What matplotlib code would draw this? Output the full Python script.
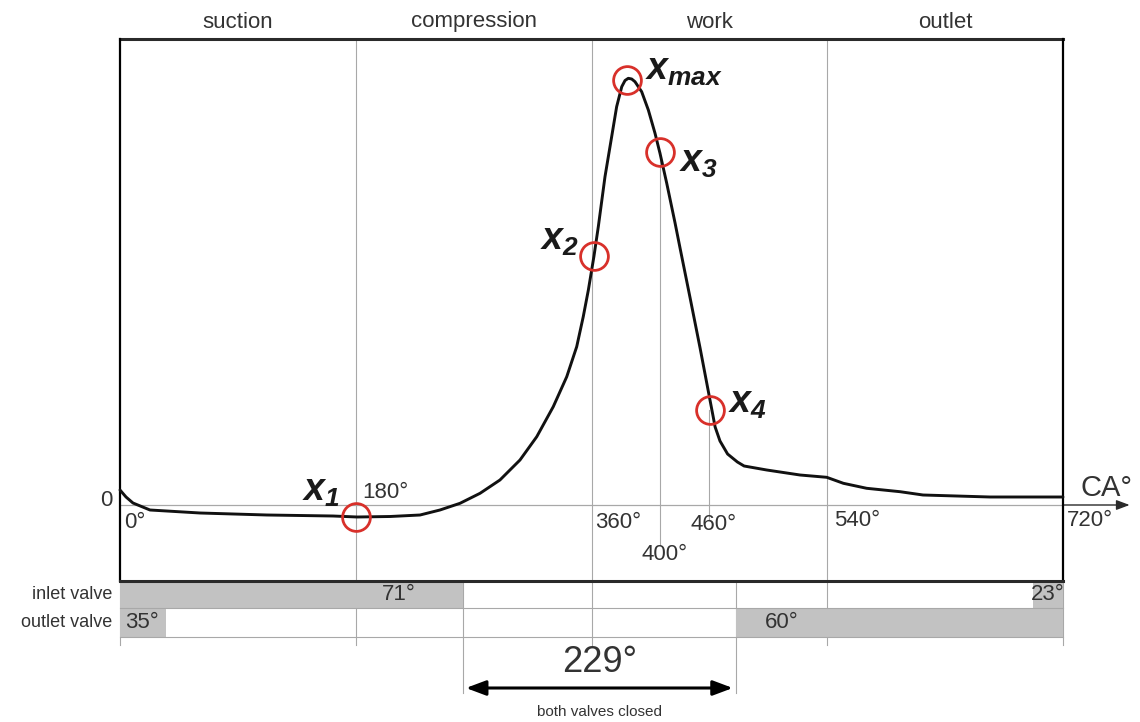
import numpy as np
import matplotlib.pyplot as plt

plt.rcParams['font.family'] = 'Liberation Sans'
plt.rcParams['mathtext.fontset'] = 'custom'
plt.rcParams['mathtext.it'] = 'Liberation Sans:italic:bold'
plt.rcParams['mathtext.rm'] = 'Liberation Sans:italic:bold'

# Curve (crank angle in degrees, signal in arbitrary units)
ca = [0, 4.6, 9.9, 22.9, 61.1, 112.2, 162.6, 181.0, 206.2, 229.1, 244.3,
      259.6, 274.9, 290.1, 305.4, 318.2, 330.8, 341.1, 348.7, 353.7, 357.6,
      361.9, 365.2, 370.3, 375.4, 379.2, 383.1, 385.6, 388.1, 390.7, 393.2,
      398.3, 403.4, 408.5, 412.3, 417.4, 423.8, 427.6, 435.3, 442.9, 449.3,
      454.4, 458.1, 463.9, 471.4, 476.5, 493.8, 519.2, 539.6, 552.3,
      570.1, 595.6, 613.1, 664.3, 720]
sig = [15, 8, 2, -5, -8, -10, -11, -12, -11.5, -10, -5,
       1.7, 11.7, 25, 45, 68.3, 98.3, 128.3, 158.3, 188.3, 215,
       249, 278.3, 328.3, 368.3, 398.3, 418.3, 424.5, 426.7, 426, 423.3,
       413.3, 395, 371.7, 351.7, 322, 282, 257, 207, 157, 113,
       78, 64, 51, 43, 39, 35, 30, 27.7, 21.7,
       16.7, 13.3, 10, 8, 8]

# Marked points
pt_names = ['1', '2', 'max', '3', '4']
pt_ca = [180.5, 361.9, 387.4, 412.3, 450.5]
pt_sig = [-12, 249, 425, 353, 95]

# Strokes
phases = ['suction', 'compression', 'work', 'outlet']
phase_bounds = [0, 180, 360, 540, 720]

# Valve opening (start, length) in degrees
inlet_open = [(0, 262), (697, 23)]
outlet_open = [(0, 35), (470, 250)]
inlet_labels = [(213, '71°'), (708, '23°')]
outlet_labels = [(17, '35°'), (505, '60°')]
closed_from, closed_to = 262, 470

# Angle marks (drawn position, label)
tick_pos = [0, 180, 360, 412, 450, 540, 720]
tick_txt = ['0°', '180°', '360°', '400°', '460°', '540°', '720°']

# figure: 1 unit in y = 1 px, x scaled so 0..720 deg spans px 120..1063
fig = plt.figure(figsize=(11.4, 7.22), dpi=100)
ax = fig.add_axes([0, 0, 1, 1])
ax.axis('off')
k = 943 / 720
ax.set_xlim(-120 / k, (1140 - 120) / k)
ax.set_ylim(-217, 505)

grid = '#a8a8a8'
dark = '#2a2a2a'
txt = '#333333'

top, row0, row1, row2, low = 466, -76, -103, -132, -140

# vertical guide lines
for x in [180, 360, 540]:
    ax.plot([x, x], [top, low], color=grid, lw=0.8, zorder=1)
for x in [0, 720]:
    ax.plot([x, x], [row0, low], color=grid, lw=0.8, zorder=1)
for x in [closed_from, closed_to]:
    ax.plot([x, x], [row0, -188], color=grid, lw=0.8, zorder=1)
ax.plot([tick_pos[3]] * 2, [353, -40], color=grid, lw=0.8, zorder=1)
ax.plot([tick_pos[4]] * 2, [95, -15], color=grid, lw=0.8, zorder=1)

# frame
ax.plot([0, 720], [top, top], color=dark, lw=2.2, zorder=3)
ax.plot([0, 0], [top, row0], color='black', lw=1.6, zorder=3)
ax.plot([720, 720], [top, row0], color='black', lw=1.6, zorder=3)
ax.plot([0, 720], [row0, row0], color=dark, lw=2.2, zorder=3)

# zero line + CA arrow
ax.plot([0, 720], [0, 0], color=grid, lw=0.9, zorder=1)
ax.annotate('', xy=(773, 0), xytext=(718, 0),
            arrowprops=dict(arrowstyle='-|>,head_length=0.8,head_width=0.3',
                            color=dark, lw=1.0), zorder=2)
ax.text(733, 17, 'CA°', fontsize=21, color=txt, ha='left', va='center')
ax.text(-6, 5, '0', fontsize=16, color=txt, ha='right', va='center')

# valve rows
ax.broken_barh(inlet_open, (row1, row0 - row1), facecolor='#c2c2c2', zorder=1)
ax.broken_barh(outlet_open, (row2, row1 - row2), facecolor='#c2c2c2', zorder=1)
for y in [row1, row2]:
    ax.plot([0, 720], [y, y], color=grid, lw=0.8, zorder=2)
ax.text(-6, (row0 + row1) / 2, 'inlet valve', fontsize=13, color=txt,
        ha='right', va='center')
ax.text(-6, (row1 + row2) / 2, 'outlet valve', fontsize=13, color=txt,
        ha='right', va='center')
for x, s in inlet_labels:
    ax.text(x, (row0 + row1) / 2, s, fontsize=16, color=txt, ha='center', va='center')
for x, s in outlet_labels:
    ax.text(x, (row1 + row2) / 2, s, fontsize=16, color=txt, ha='center', va='center')

# both valves closed
ax.annotate('', xy=(closed_to, -183), xytext=(closed_from, -183),
            arrowprops=dict(arrowstyle='<|-|>,head_length=1.2,head_width=0.45',
                            color='black', lw=2.2))
ax.text((closed_from + closed_to) / 2, -158, '229°', fontsize=26, color=txt,
        ha='center', va='center')
ax.text((closed_from + closed_to) / 2, -207, 'both valves closed', fontsize=11,
        color=txt, ha='center', va='center')

# stroke names
for i, name in enumerate(phases):
    ax.text((phase_bounds[i] + phase_bounds[i + 1]) / 2, 483, name,
            fontsize=16, color=txt, ha='center', va='center')

# angle labels
tick_xy = {'0°': (3, -17, 'left'), '180°': (185, 13, 'left'),
           '360°': (363, -17, 'left'), '400°': (416, -50, 'center'),
           '460°': (453, -20, 'center'), '540°': (545, -15, 'left'),
           '720°': (723, -16, 'left')}
for p, s in zip(tick_pos, tick_txt):
    x, y, ha = tick_xy[s]
    ax.text(x, y, s, fontsize=16, color=txt, ha=ha, va='center')

# curve
ax.plot(ca, sig, color='#111111', lw=2.1, solid_joinstyle='round',
        solid_capstyle='round', zorder=4)
ax.plot(pt_ca, pt_sig, 'o', ms=20, mfc='none', mec='#d8302a', mew=2.0, zorder=5)

lab_xy = {'1': (168, 14, 'right'), '2': (350, 265, 'right'),
          'max': (401, 435, 'left'), '3': (427, 343, 'left'),
          '4': (464, 102, 'left')}
for n in pt_names:
    x, y, ha = lab_xy[n]
    ax.text(x, y, r'$x_{%s}$' % n, fontsize=27, color='#1a1a1a',
            ha=ha, va='center')

fig.savefig('out.png', dpi=100)
